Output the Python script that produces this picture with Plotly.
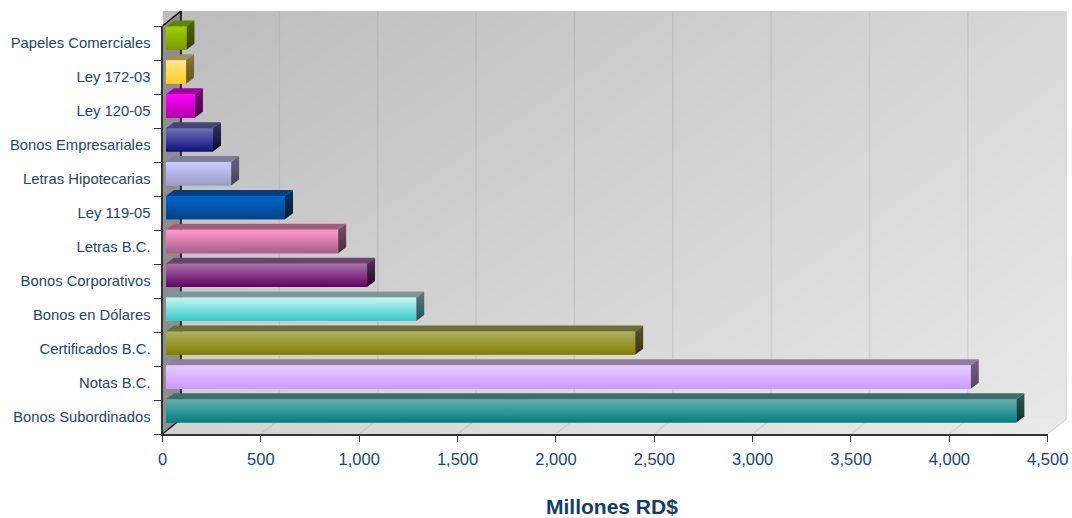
import plotly.graph_objects as go

W, H = 1072, 518

# data (bottom to top)
categories = ["Bonos Subordinados", "Notas B.C.", "Certificados B.C.", "Bonos en Dólares",
              "Bonos Corporativos", "Letras B.C.", "Ley 119-05", "Letras Hipotecarias",
              "Bonos Empresariales", "Ley 120-05", "Ley 172-03", "Papeles Comerciales"]
values = [4323, 4091, 2385, 1272, 1022, 875, 605, 331, 239, 147, 102, 104]
color_top = ["#66b0ae", "#e6ccff", "#b0b060", "#c8f4f0", "#aa70aa", "#ff99cc",
             "#0066cc", "#ccccff", "#7070b8", "#ff00ff", "#ffe88f", "#a0d000"]
color_bottom = ["#008080", "#cc99ff", "#808000", "#33cccc", "#600060", "#a86088",
                "#004488", "#9c9cc8", "#10107c", "#b000a8", "#ffcc20", "#7a9a00"]
x_ticks = [0, 500, 1000, 1500, 2000, 2500, 3000, 3500, 4000, 4500]

TEXT = "#1c4472"
FONT = "Liberation Sans"

# layout geometry, in pixels of the page
FX0, FX1, FY0, FY1 = 162.5, 1047.7, 26.0, 434.0      # front plane
SCALE = (FX1 - FX0) / 4500                           # px per unit
WALL_DX_PX, WALL_DY_PX = 18.5, 15.0                  # depth of the box
SCENE_X1, SCENE_Y0 = 1070.0, 11.0
BX0, BY_STEP, BY_BOTTOM = 166.0, 33.88, 427.8        # bar plane
BAR_W = 0.69
BAR_DX_PX, BAR_DY_PX = 8.0, 6.0
EXTRA = 0.15


def xdom(a, b):
    return [a / W, b / W]


def ydom(top, bottom):
    return [1 - bottom / H, 1 - top / H]


def shade(hex_color, f):
    r, g, b = (int(hex_color[i:i + 2], 16) for i in (1, 3, 5))
    return f"rgb({r * f:.0f},{g * f:.0f},{b * f:.0f})"


wall_dx = WALL_DX_PX / SCALE
scene_xmax = (SCENE_X1 - FX0) / SCALE
scene_ymax = FY1 - SCENE_Y0
wall_xr = (1066.0 - FX0) / SCALE

fig = go.Figure()

# back wall
fig.add_trace(go.Heatmap(x=[wall_dx, wall_xr], y=[WALL_DY_PX, scene_ymax],
                         z=[[208, 232], [188, 216]], zmin=0, zmax=255, zsmooth="best",
                         colorscale=[[0, "#000000"], [1, "#ffffff"]], showscale=False,
                         hoverinfo="skip", xaxis="x", yaxis="y"))


def scene_poly(xs, ys, **kw):
    fig.add_trace(go.Scatter(x=xs, y=ys, mode="lines", hoverinfo="skip", showlegend=False,
                             xaxis="x", yaxis="y", **kw))


# cover the wall's overflow
scene_poly([0, scene_xmax, scene_xmax, 0, 0], [0, 0, WALL_DY_PX, WALL_DY_PX, 0],
           fill="toself", fillcolor="#ffffff", line=dict(width=0))
scene_poly([wall_xr, scene_xmax, scene_xmax, wall_xr, wall_xr],
           [0, 0, scene_ymax, scene_ymax, 0],
           fill="toself", fillcolor="#ffffff", line=dict(width=0))
# floor
scene_poly([0, 4500, 4500 + wall_dx, wall_dx, 0], [0, 0, WALL_DY_PX, WALL_DY_PX, 0],
           fill="toself", line=dict(width=0),
           fillgradient=dict(type="horizontal", colorscale=[[0, "#d2d2d2"], [1, "#eaeaea"]]))
# left wall
scene_poly([0, wall_dx, wall_dx, 0, 0],
           [0, WALL_DY_PX, scene_ymax, FY1 - FY0, 0],
           fill="toself", fillcolor="#8e8e8e", line=dict(width=0))
# grid on back wall and floor
for t in x_ticks[1:-1]:
    scene_poly([t, t + wall_dx, t + wall_dx], [0, WALL_DY_PX, scene_ymax],
               line=dict(color="rgba(140,140,140,0.2)", width=1.5))
# box edges
scene_poly([0, wall_dx, wall_dx], [FY1 - FY0, scene_ymax, WALL_DY_PX],
           line=dict(color="#000000", width=1.5))
scene_poly([0, wall_dx], [0, WALL_DY_PX], line=dict(color="#000000", width=1.2))
scene_poly([4500, 4500 + wall_dx, 4500 + wall_dx], [0, WALL_DY_PX, scene_ymax],
           line=dict(color="#d6d6d6", width=1.2))

# bars
fig.add_trace(go.Bar(x=values, y=list(range(len(values))), orientation="h", width=BAR_W,
                     marker=dict(color=color_bottom, line=dict(width=0)),
                     customdata=categories, hovertemplate="%{customdata}: %{x:,}<extra></extra>",
                     xaxis="x2", yaxis="y2", showlegend=False))
bar_dx = BAR_DX_PX / SCALE
bar_dy = BAR_DY_PX / BY_STEP
for i, v in enumerate(values):
    lo, hi = i - BAR_W / 2, i + BAR_W / 2
    common = dict(mode="lines", line=dict(width=0), hoverinfo="skip", showlegend=False,
                  xaxis="x2", yaxis="y2", fill="toself")
    # top face
    fig.add_trace(go.Scatter(x=[0, v, v + bar_dx, bar_dx, 0],
                             y=[hi, hi, hi + bar_dy, hi + bar_dy, hi],
                             fillcolor=shade(color_top[i], 0.62), **common))
    # side face
    fig.add_trace(go.Scatter(x=[v, v + bar_dx, v + bar_dx, v, v],
                             y=[lo, lo + bar_dy, hi + bar_dy, hi, lo],
                             fillgradient=dict(type="vertical", colorscale=[
                                 [0, shade(color_bottom[i], 0.42)],
                                 [1, shade(color_top[i], 0.5)]]), **common))
    # front face shading
    fig.add_trace(go.Scatter(x=[0, v, v, 0, 0], y=[lo, lo, hi, hi, lo],
                             fillgradient=dict(type="vertical", colorscale=[
                                 [0, color_bottom[i]], [1, color_top[i]]]), **common))

# visible front axes
fig.add_trace(go.Scatter(x=[None], y=[None], xaxis="x3", yaxis="y3", showlegend=False,
                         hoverinfo="skip"))

hidden = dict(visible=False, fixedrange=True)
y2_bottom = BY_BOTTOM
y2_top = BY_BOTTOM - BY_STEP * (12 + EXTRA)
fig.update_layout(
    width=W, height=H, margin=dict(l=0, r=0, t=0, b=0, autoexpand=False), paper_bgcolor="white",
    plot_bgcolor="rgba(0,0,0,0)", showlegend=False, barmode="overlay",
    xaxis=dict(domain=xdom(FX0, SCENE_X1), range=[0, scene_xmax], **hidden),
    yaxis=dict(domain=ydom(SCENE_Y0, FY1), range=[0, scene_ymax], **hidden),
    xaxis2=dict(domain=xdom(BX0, BX0 + SCALE * 4500), range=[0, 4500], anchor="y2", **hidden),
    yaxis2=dict(domain=ydom(y2_top, y2_bottom), range=[-0.5, 11.5 + EXTRA], anchor="x2", **hidden),
    xaxis3=dict(domain=xdom(FX0, FX1), range=[0, 4500], anchor="y3", tickmode="array",
                tickvals=x_ticks, tickformat=",d", ticks="outside", ticklen=6, tickwidth=1,
                tickcolor="#333333", showline=True, linecolor="#333333", linewidth=1.5,
                showgrid=False, zeroline=False, fixedrange=True, ticklabelstandoff=3,
                tickfont=dict(family=FONT, size=16.5, color=TEXT)),
    yaxis3=dict(domain=ydom(FY0, FY1), range=[-0.5, 11.5], anchor="x3", tickmode="array",
                tickvals=list(range(len(categories))), ticktext=categories, ticks="outside",
                ticklen=7, tickcolor="rgba(0,0,0,0)", showline=True, linecolor="#333333",
                linewidth=2, showgrid=False, zeroline=False, fixedrange=True,
                tickfont=dict(family=FONT, size=14.8, color=TEXT),
                minor=dict(tickmode="array", tickvals=[i - 0.5 for i in range(len(categories) + 1)],
                           ticks="outside", ticklen=7, tickwidth=1, tickcolor="#333333",
                           showgrid=False)),
    annotations=[dict(text="<b>Millones RD$</b>", x=612 / W, y=1 - 506.5 / H, xref="paper",
                      yref="paper", showarrow=False, xanchor="center", yanchor="middle",
                      font=dict(family=FONT, size=21, color="#0f3c6e"))],
)
fig.write_html("out.html", config={"displayModeBar": False},
               post_script="document.body.style.margin='0';document.documentElement.style.overflow='hidden';")
